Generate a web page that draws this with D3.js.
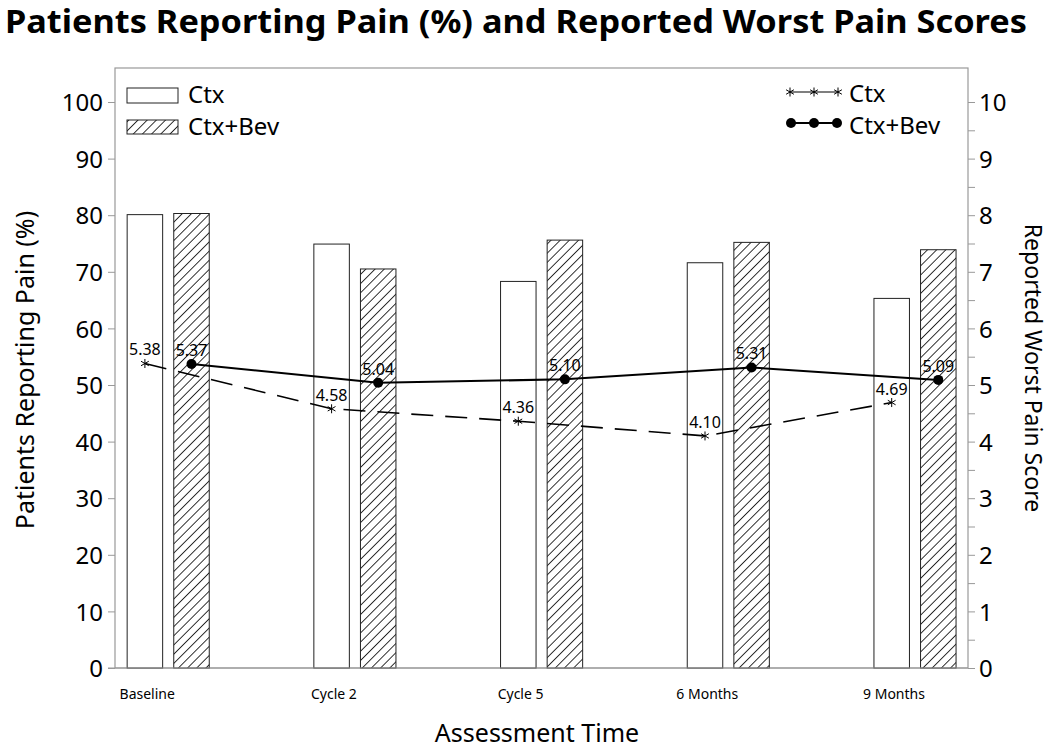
<!DOCTYPE html>
<html>
<head>
<meta charset="utf-8">
<script type="text/javascript" src="https://cdn.jsdelivr.net/npm/d3@7"></script>
<style>
  body { margin: 0; background: #fff; }
  text { font-family: "Noto Sans", "Open Sans", sans-serif; fill: #000; }
</style>
</head>
<body>
<div id="viz"></div>
<script type="text/javascript">
var categories = ["Baseline", "Cycle 2", "Cycle 5", "6 Months", "9 Months"];
var ctxPct = [80.1, 74.9, 68.3, 71.6, 65.3];
var bevPct = [80.3, 70.5, 75.6, 75.2, 73.9];
var ctxScore = [5.38, 4.58, 4.36, 4.10, 4.69];
var bevScore = [5.37, 5.04, 5.10, 5.31, 5.09];
var leftTicks = [0, 10, 20, 30, 40, 50, 60, 70, 80, 90, 100];
var rightTicks = [0, 1, 2, 3, 4, 5, 6, 7, 8, 9, 10];

var W = 1050, H = 749;
var plot = { left: 115, right: 968, top: 68, bottom: 668 };

var svg = d3.select("#viz").append("svg")
  .attr("width", W)
  .attr("height", H);

// hatch pattern for Ctx+Bev bars
var defs = svg.append("defs");
var pat = defs.append("pattern")
  .attr("id", "hatch")
  .attr("patternUnits", "userSpaceOnUse")
  .attr("width", 6.5)
  .attr("height", 6.5)
  .attr("patternTransform", "rotate(45)");
pat.append("rect").attr("width", 6.5).attr("height", 6.5).attr("fill", "#fff");
pat.append("line")
  .attr("x1", 0).attr("y1", 0).attr("x2", 0).attr("y2", 6.5)
  .attr("stroke", "#000").attr("stroke-width", 1.6);

var x = d3.scalePoint().domain(categories).range([168.2, 915]);
var yL = d3.scaleLinear().domain([0, 100]).range([plot.bottom, 102]);
var yR = d3.scaleLinear().domain([0, 10]).range([plot.bottom, 102]);

var barW = 35.5, off = 23.3;

// frame
svg.append("rect")
  .attr("x", plot.left).attr("y", plot.top)
  .attr("width", plot.right - plot.left).attr("height", plot.bottom - plot.top)
  .attr("fill", "none").attr("stroke", "#999").attr("stroke-width", 1.2);

// bars
svg.selectAll("rect.ctx")
  .data(ctxPct)
  .enter()
  .append("rect")
  .attr("class", "ctx")
  .attr("x", function(d, i){ return x(categories[i]) - off - barW/2; })
  .attr("y", function(d){ return yL(d); })
  .attr("width", barW)
  .attr("height", function(d){ return yL(0) - yL(d); })
  .attr("fill", "#fff").attr("stroke", "#222").attr("stroke-width", 1);

svg.selectAll("rect.bev")
  .data(bevPct)
  .enter()
  .append("rect")
  .attr("class", "bev")
  .attr("x", function(d, i){ return x(categories[i]) + off - barW/2; })
  .attr("y", function(d){ return yL(d); })
  .attr("width", barW)
  .attr("height", function(d){ return yL(0) - yL(d); })
  .attr("fill", "url(#hatch)").attr("stroke", "#222").attr("stroke-width", 1);

// left axis
var leftAxis = d3.axisLeft(yL).tickValues(leftTicks).tickSize(7).tickPadding(5);
var gl = svg.append("g").attr("transform", "translate(" + plot.left + ",0)").call(leftAxis);
gl.select(".domain").remove();
gl.selectAll(".tick line").attr("stroke", "#999");
gl.selectAll(".tick text").style("font-size", "24px").attr("dy", "0.36em");

// right axis (ticks every 0.5, labels on integers)
var rightAxis = d3.axisRight(yR).tickValues(d3.range(0, 10.01, 0.5)).tickSize(7).tickPadding(4)
  .tickFormat(function(d){ return rightTicks.indexOf(d) >= 0 ? d : ""; });
var gr = svg.append("g").attr("transform", "translate(" + plot.right + ",0)").call(rightAxis);
gr.select(".domain").remove();
gr.selectAll(".tick line").attr("stroke", "#999");
gr.selectAll(".tick text").style("font-size", "24px").attr("dy", "0.36em");

// bottom axis line and category labels
svg.append("line")
  .attr("x1", 108).attr("x2", plot.right)
  .attr("y1", plot.bottom).attr("y2", plot.bottom)
  .attr("stroke", "#999").attr("stroke-width", 1.2);
svg.selectAll("text.cat")
  .data(categories)
  .enter()
  .append("text")
  .attr("class", "cat")
  .attr("x", function(d){ return x(d) - 21; })
  .attr("y", 699)
  .attr("text-anchor", "middle")
  .style("font-size", "14px")
  .text(function(d){ return d; });

// lines
var ctxLine = d3.line()
  .x(function(d, i){ return x(categories[i]) - off; })
  .y(function(d){ return yR(d); });
var bevLine = d3.line()
  .x(function(d, i){ return x(categories[i]) + off; })
  .y(function(d){ return yR(d); });

svg.append("path").datum(ctxScore)
  .attr("d", ctxLine).attr("fill", "none")
  .attr("stroke", "#000").attr("stroke-width", 1.6)
  .attr("stroke-dasharray", "22,12");
svg.append("path").datum(bevScore)
  .attr("d", bevLine).attr("fill", "none")
  .attr("stroke", "#000").attr("stroke-width", 2);

function asterisk(g, cx, cy) {
  var r = 4.5;
  for (var k = 0; k < 3; k++) {
    var a = Math.PI / 2 + k * Math.PI / 3;
    g.append("line")
      .attr("x1", cx - r*Math.cos(a)).attr("y1", cy - r*Math.sin(a))
      .attr("x2", cx + r*Math.cos(a)).attr("y2", cy + r*Math.sin(a))
      .attr("stroke", "#000").attr("stroke-width", 1);
  }
}
var markG = svg.append("g");
ctxScore.forEach(function(d, i){ asterisk(markG, x(categories[i]) - off, yR(d)); });

svg.selectAll("circle.bev")
  .data(bevScore)
  .enter()
  .append("circle")
  .attr("class", "bev")
  .attr("cx", function(d, i){ return x(categories[i]) + off; })
  .attr("cy", function(d){ return yR(d); })
  .attr("r", 5).attr("fill", "#000");

// value labels
svg.selectAll("text.cl")
  .data(ctxScore)
  .enter()
  .append("text")
  .attr("class", "cl")
  .attr("x", function(d, i){ return x(categories[i]) - off; })
  .attr("y", function(d){ return yR(d) - 8; })
  .attr("text-anchor", "middle")
  .style("font-size", "16px")
  .text(function(d){ return d.toFixed(2); });
svg.selectAll("text.bl")
  .data(bevScore)
  .enter()
  .append("text")
  .attr("class", "bl")
  .attr("x", function(d, i){ return x(categories[i]) + off; })
  .attr("y", function(d){ return yR(d) - 8; })
  .attr("text-anchor", "middle")
  .style("font-size", "16px")
  .text(function(d){ return d.toFixed(2); });

// left legend
svg.append("rect").attr("x", 127).attr("y", 88).attr("width", 51).attr("height", 15)
  .attr("fill", "#fff").attr("stroke", "#222");
svg.append("text").attr("x", 188).attr("y", 103).style("font-size", "24px").text("Ctx");
svg.append("rect").attr("x", 127).attr("y", 120).attr("width", 51).attr("height", 14)
  .attr("fill", "url(#hatch)").attr("stroke", "#222");
svg.append("text").attr("x", 188).attr("y", 135).style("font-size", "24px").text("Ctx+Bev");

// right legend
svg.append("line").attr("x1", 789).attr("x2", 839).attr("y1", 92).attr("y2", 92)
  .attr("stroke", "#000").attr("stroke-width", 1.2);
[790, 814, 838].forEach(function(px){ asterisk(svg, px, 92); });
svg.append("text").attr("x", 849).attr("y", 102).style("font-size", "24px").text("Ctx");
svg.append("line").attr("x1", 789).attr("x2", 839).attr("y1", 123).attr("y2", 123)
  .attr("stroke", "#000").attr("stroke-width", 2);
[791, 814, 837].forEach(function(px){
  svg.append("circle").attr("cx", px).attr("cy", 123).attr("r", 5).attr("fill", "#000");
});
svg.append("text").attr("x", 849).attr("y", 134).style("font-size", "24px").text("Ctx+Bev");

// titles
svg.append("text")
  .attr("x", 5).attr("y", 33)
  .attr("textLength", 1022).attr("lengthAdjust", "spacingAndGlyphs")
  .style("font-size", "32px").style("font-weight", "bold")
  .text("Patients Reporting Pain (%) and Reported Worst Pain Scores");

svg.append("text")
  .attr("transform", "translate(34,370) rotate(-90)")
  .attr("text-anchor", "middle")
  .style("font-size", "25px")
  .text("Patients Reporting Pain (%)");

svg.append("text")
  .attr("transform", "translate(1025,368) rotate(90)")
  .attr("text-anchor", "middle")
  .style("font-size", "23px")
  .text("Reported Worst Pain Score");

svg.append("text")
  .attr("x", 537).attr("y", 742)
  .attr("text-anchor", "middle")
  .style("font-size", "25px")
  .text("Assessment Time");
</script>
</body>
</html>
